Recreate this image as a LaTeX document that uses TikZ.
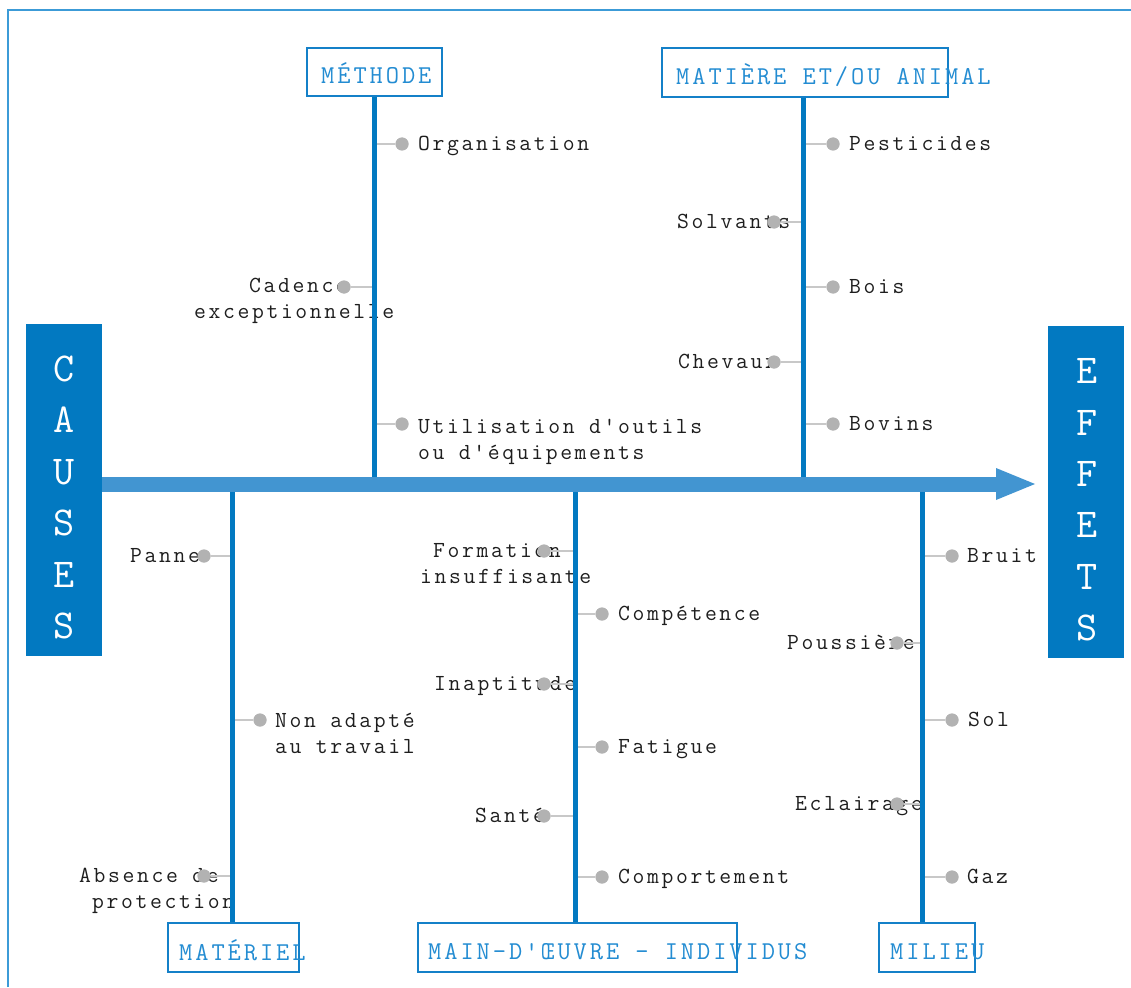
\documentclass[tikz,border=0pt]{standalone}
\usepackage{fontspec}
\setmonofont{Latin Modern Mono}[LetterSpace=11.4]
\usetikzlibrary{calc}
\definecolor{boxblue}{RGB}{2,121,193}
\definecolor{spinecol}{RGB}{66,149,209}
\definecolor{catline}{RGB}{20,128,200}
\definecolor{cattxt}{RGB}{35,140,210}
\definecolor{framecol}{RGB}{60,155,215}
\definecolor{twiggray}{RGB}{200,200,200}
\definecolor{dotgray}{RGB}{178,178,178}
\definecolor{labtxt}{RGB}{30,30,30}
\newcommand\mytwo[2]{\begin{tabular}[t]{@{}l@{}}#1\\#2\end{tabular}}
\begin{document}
\begin{tikzpicture}[x=1pt,y=-1pt,
  framel/.style={draw=framecol, line width=1.5pt},
  catbox/.style={draw=catline, line width=1.3pt, fill=white, inner sep=0pt},
  cattext/.style={text=cattxt, font=\ttfamily\fontsize{25.7}{30}\selectfont, inner sep=0pt, anchor=base west},
  bigbox/.style={fill=boxblue, inner sep=0pt, minimum width=76pt, minimum height=332pt},
  bigtext/.style={text=white, font=\ttfamily\fontsize{41}{51.4}\selectfont, align=center, inner sep=0pt},
  branch/.style={draw=boxblue, line width=5pt},
  twig/.style={draw=twiggray, line width=1.2pt},
  dot/.style={circle, fill=dotgray, inner sep=0pt, minimum size=13pt},
  lab/.style={text=labtxt, font=\ttfamily\fontsize{23}{26}\selectfont, inner sep=0pt, anchor=base west},
  spine/.style={draw=spinecol, line width=15pt},
]
\useasboundingbox (0,0) rectangle (1131,987);
% frame
\draw[framel] (8,987) -- (8,10) -- (1131,10);

% labels
\node[lab] (l-org) at (418,150) {Organisation};
\node[lab] (l-util) at (418,433) {\mytwo{Utilisation d'outils}{ou d'équipements}};
\node[lab] (l-cad) at (194,292) {\mytwo{\hspace*{55pt}Cadence}{exceptionnelle}};
\node[lab] (l-pest) at (849,150) {Pesticides};
\node[lab] (l-solv) at (677,228) {Solvants};
\node[lab] (l-bois) at (849,293) {Bois};
\node[lab] (l-chev) at (678,368) {Chevaux};
\node[lab] (l-bov) at (849,430) {Bovins};
\node[lab] (l-panne) at (130,562) {Panne};
\node[lab] (l-nonad) at (275,727) {\mytwo{Non adapté}{au travail}};
\node[lab] (l-abs) at (79,882) {\mytwo{Absence de}{\hspace*{13pt}protection}};
\node[lab] (l-form) at (420,557) {\mytwo{\hspace*{13pt}Formation}{insuffisante}};
\node[lab] (l-comp) at (618,620) {Compétence};
\node[lab] (l-inapt) at (434,690) {Inaptitude};
\node[lab] (l-fat) at (618,753) {Fatigue};
\node[lab] (l-sante) at (475,822) {Santé};
\node[lab] (l-compt) at (618,883) {Comportement};
\node[lab] (l-bruit) at (967,562) {Bruit};
\node[lab] (l-pouss) at (787,649) {Poussière};
\node[lab] (l-sol) at (968,726) {Sol};
\node[lab] (l-ecl) at (795,810) {Eclairage};
\node[lab] (l-gaz) at (967,883) {Gaz};

% twigs and dots
\foreach \n/\bx/\dx/\y in {org/374/402/144, util/374/402/424, cad/374/344/287,
  pest/803/833/144, solv/803/774/222, bois/803/833/287, chev/803/774/362, bov/803/833/424,
  panne/232/204/556, nonad/232/260/720, abs/232/204/876,
  form/575/544/551, comp/575/602/614, inapt/575/544/684, fat/575/602/747, sante/575/544/816, compt/575/602/877,
  bruit/922/952/556, pouss/922/897/643, sol/922/952/720, ecl/922/897/804, gaz/922/952/877}{
  \coordinate (b-\n) at (\bx,\y);
  \node[dot] (d-\n) at (\dx,\y) {};
  \draw[twig] (b-\n) -- (d-\n);
  \node[dot] at (d-\n) {};
}

% category boxes
\node[catbox, minimum width=135pt, minimum height=48pt] (methode) at (374.5,72) {};
\node[catbox, minimum width=286pt, minimum height=49pt] (matiere) at (805,72.5) {};
\node[catbox, minimum width=131pt, minimum height=49pt] (materiel) at (233.5,947.5) {};
\node[catbox, minimum width=319pt, minimum height=49pt] (main) at (577.5,947.5) {};
\node[catbox, minimum width=96pt, minimum height=49pt] (milieu) at (927,947.5) {};
\node[cattext] (t-methode) at (321,84) {MÉTHODE};
\node[cattext] (t-matiere) at (676,85) {MATIÈRE ET/OU ANIMAL};
\node[cattext] (t-materiel) at (179,960) {MATÉRIEL};
\node[cattext] (t-main) at (428,959) {MAIN-D'ŒUVRE - INDIVIDUS};
\node[cattext] (t-milieu) at (890,959) {MILIEU};

% junctions on spine
\coordinate (j-methode) at (374,484);
\coordinate (j-matiere) at (803,484);
\coordinate (j-materiel) at (232,484);
\coordinate (j-main) at (575,484);
\coordinate (j-milieu) at (922,484);

% branches
\draw[branch] (methode.south -| j-methode) -- (j-methode);
\draw[branch] (matiere.south -| j-matiere) -- (j-matiere);
\draw[branch] (materiel.north -| j-materiel) -- (j-materiel);
\draw[branch] (main.north -| j-main) -- (j-main);
\draw[branch] (milieu.north -| j-milieu) -- (j-milieu);

% big boxes
\node[bigbox] (causes) at (64,490) {};
\node[bigbox] (effets) at (1086,492) {};
\node[bigtext] (t-causes) at (64,497.5) {C\\A\\U\\S\\E\\S};
\node[bigtext] (t-effets) at (1087,500) {E\\F\\F\\E\\T\\S};

% spine
\coordinate (tipbase) at (996,484);
\coordinate (tip) at (1035,484);
\draw[spine] (causes.east |- tip) -- (tipbase);
\fill[spinecol] ($(tipbase)+(0,-16)$) -- (tip) -- ($(tipbase)+(0,16)$) -- cycle;
\end{tikzpicture}
\end{document}
